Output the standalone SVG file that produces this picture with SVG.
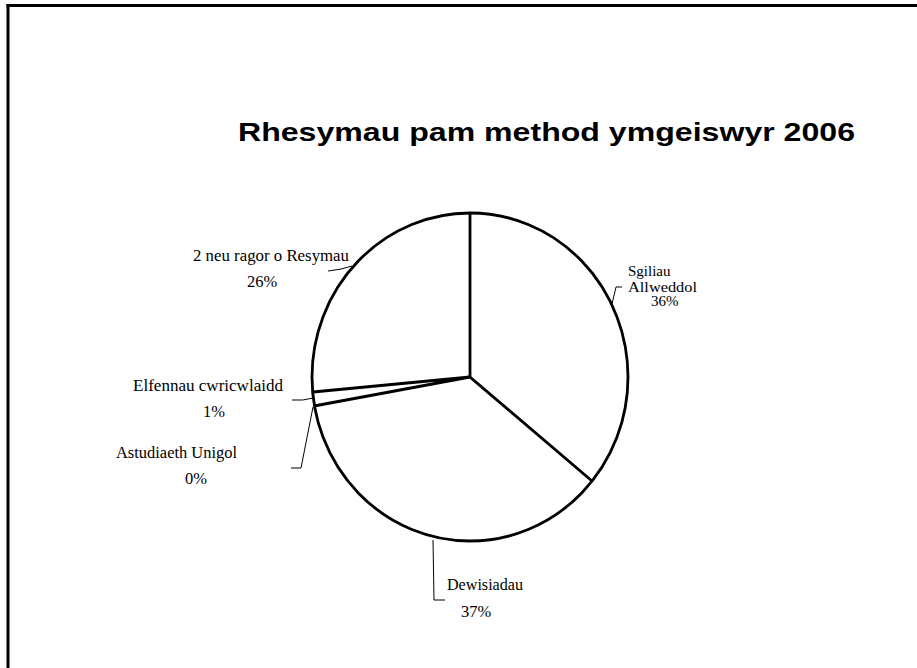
<svg xmlns="http://www.w3.org/2000/svg" width="917" height="668" viewBox="0 0 917 668">
<style>
.lbl{font-family:"Liberation Serif","Times New Roman",serif;font-size:16.5px;fill:#000}
.sm{font-size:15px}
.title{font-family:"Liberation Sans",Arial,sans-serif;font-size:25px;font-weight:bold;fill:#000}
.lead{fill:none;stroke:#000;stroke-width:1}
.pie{fill:#fff;stroke:#000;stroke-width:2.8}
.sep{stroke:#000;stroke-width:2.8;fill:none}
</style>
<rect x="0" y="0" width="917" height="668" fill="#fff"/>
<g id="frame">
<line x1="6.5" y1="5.5" x2="917" y2="5.5" stroke="#000" stroke-width="3"/>
<line x1="8" y1="4" x2="8" y2="668" stroke="#000" stroke-width="3"/>
</g>
<g id="title"><text class="title" x="238" y="141" textLength="617" lengthAdjust="spacingAndGlyphs">Rhesymau pam method ymgeiswyr 2006</text></g>
<g id="pie">
<ellipse class="pie" cx="470" cy="377" rx="158" ry="164"/>
<polyline class="sep" points="470,213 470,377 592,481"/>
<polyline class="sep" points="314,406 470,377 313,392"/>
</g>
<g id="connectors">
<path class="lead" d="M328,271 Q340,270 352,266"/>
<path class="lead" d="M622,287 L616,287 L612,304"/>
<path class="lead" d="M292,400 Q303,401 313,398"/>
<path class="lead" d="M291,468 L301,468 L313,407"/>
<path class="lead" d="M433,540 L434,600 L445,600"/>
</g>
<g id="label-2neu"><text class="lbl" x="193" y="261" textLength="156" lengthAdjust="spacingAndGlyphs">2 neu ragor o Resymau</text><text class="lbl" x="247" y="287">26%</text></g>
<g id="label-sgiliau"><text class="lbl sm" x="628" y="276">Sgiliau</text><text class="lbl sm" x="628" y="292" textLength="69" lengthAdjust="spacingAndGlyphs">Allweddol</text><text class="lbl sm" x="651" y="306">36%</text></g>
<g id="label-elfennau"><text class="lbl" x="133" y="391" textLength="150" lengthAdjust="spacingAndGlyphs">Elfennau cwricwlaidd</text><text class="lbl" x="203" y="417">1%</text></g>
<g id="label-astudiaeth"><text class="lbl" x="116" y="458" textLength="121" lengthAdjust="spacingAndGlyphs">Astudiaeth Unigol</text><text class="lbl" x="185" y="484">0%</text></g>
<g id="label-dewisiadau"><text class="lbl" x="447" y="590" textLength="76" lengthAdjust="spacingAndGlyphs">Dewisiadau</text><text class="lbl" x="461" y="617">37%</text></g>
</svg>
